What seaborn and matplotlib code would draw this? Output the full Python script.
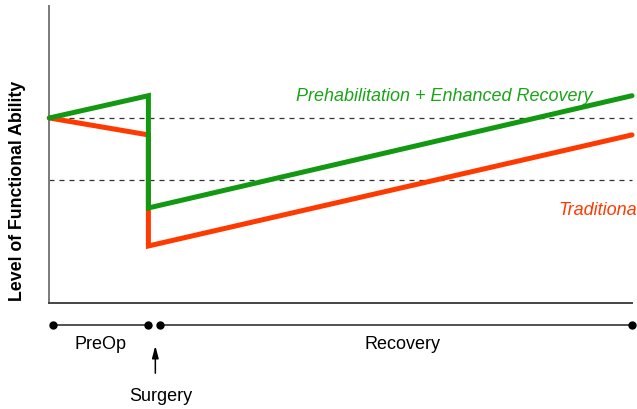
import matplotlib
matplotlib.use("Agg")
import matplotlib.pyplot as plt
import matplotlib.transforms as mtransforms
import pandas as pd
import seaborn as sns

# Time axis: 0 = start of pre-operative period, 1 = surgery
time_points = [0.0, 1.0, 1.0, 5.88]
prehab_ability = [62.3, 69.8, 32.0, 69.8]
traditional_ability = [62.3, 56.6, 19.2, 56.6]
reference_levels = [62.3, 41.4]

series_names = ["Prehabilitation + Enhanced Recovery", "Traditional"]
series_colors = {"Prehabilitation + Enhanced Recovery": "#139812",
                 "Traditional": "#ff3a00"}
label_colors = {"Prehabilitation + Enhanced Recovery": "#1aa518",
                "Traditional": "#ff3a00"}

# Timeline below the chart
timeline_dots = [0.04, 1.0, 1.12, 5.88]
phase_labels = ["PreOp", "Recovery"]
phase_centers = [0.52, 3.56]
surgery_label = "Surgery"

rows = []
for name, vals in zip(series_names, [prehab_ability, traditional_ability]):
    for order, (t, v) in enumerate(zip(time_points, vals)):
        rows.append({"series": name, "time": t, "ability": v, "order": order})
df = pd.DataFrame(rows)

sns.set_theme(style="white")
plt.rcParams["font.family"] = ["Liberation Sans", "DejaVu Sans"]

fig = plt.figure(figsize=(6.37, 4.10), dpi=100)
ax = fig.add_axes([49.3 / 637, 1 - 304 / 410, (632 - 49.3) / 637, (304 - 7) / 410])

for lvl in reference_levels:
    ax.axhline(lvl, color="#333333", lw=0.9, ls=(0, (4, 4)), zorder=1)

# Traditional first so the prehabilitation path sits on top at surgery
for z, name in enumerate(reversed(series_names)):
    sns.lineplot(data=df[df["series"] == name], x="time", y="ability",
                 estimator=None, sort=False, color=series_colors[name], lw=3.6,
                 legend=False, ax=ax, zorder=3 + z)
for line in ax.lines:
    line.set_clip_on(False)
    line.set_solid_joinstyle("miter")

ax.set_xlim(0, 5.88)
ax.set_ylim(0, 100)
ax.set_xticks([])
ax.set_yticks([])
ax.set_xlabel("")
ax.set_ylabel("")
for side in ["top", "right"]:
    ax.spines[side].set_visible(False)
ax.spines["left"].set_color("#7a7a7a")
ax.spines["bottom"].set_color("#444444")
ax.spines["left"].set_linewidth(1.4)
ax.spines["bottom"].set_linewidth(1.4)

ax.text(2.49, 70.0, series_names[0], color=label_colors[series_names[0]],
        style="italic", fontsize=13, ha="left", va="center")
ax.text(5.14, 31.5, series_names[1], color=label_colors[series_names[1]],
        style="italic", fontsize=13, ha="left", va="center", clip_on=False)

fig.text(18 / 637, 1 - 191 / 410, "Level of Functional Ability", rotation=90,
         fontsize=12.8, fontweight="bold", ha="center", va="center", color="black")

# Timeline uses data x and figure-pixel y
blend = mtransforms.blended_transform_factory(ax.transData, fig.transFigure)
ty = 1 - 326 / 410
ax.plot(timeline_dots[:2], [ty, ty], color="#333333", lw=1.2, transform=blend, clip_on=False)
ax.plot(timeline_dots[2:], [ty, ty], color="#333333", lw=1.2, transform=blend, clip_on=False)
ax.plot(timeline_dots, [ty] * 4, "o", color="black", ms=5, transform=blend, clip_on=False)

for lab, cx in zip(phase_labels, phase_centers):
    ax.text(cx, 1 - 345 / 410, lab, fontsize=13, ha="center", va="center",
            transform=blend, color="black")

ax.annotate("", xy=(1.07, 1 - 344 / 410), xytext=(1.07, 1 - 377 / 410),
            xycoords=blend, textcoords=blend,
            arrowprops=dict(arrowstyle="-|>,head_length=0.6,head_width=0.16",
                            color="black", lw=1.1))
ax.text(1.12, 1 - 397 / 410, surgery_label, fontsize=13, ha="center", va="center",
        transform=blend, color="black")

fig.savefig("out.png", dpi=100)
